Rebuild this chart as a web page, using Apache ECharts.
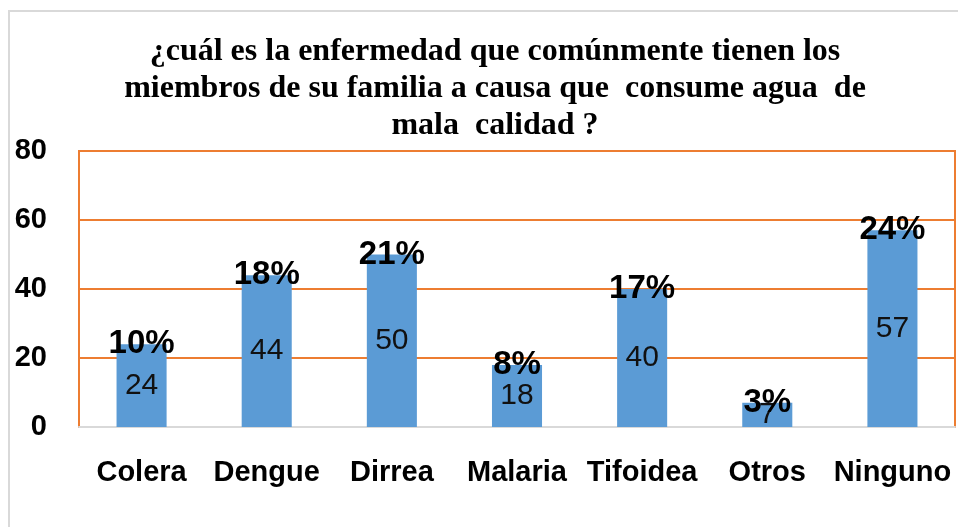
<!DOCTYPE html>
<html>
<head>
<meta charset="utf-8">
<script src="https://cdn.jsdelivr.net/npm/echarts@6/dist/echarts.min.js"></script>
<style>
    html, body { margin: 0; padding: 0; background: #fff; }
    #chart { width: 958px; height: 527px; }
</style>
</head>
<body>
<div id="chart"></div>
<script>
// datos
var categorias = ['Colera', 'Dengue', 'Dirrea', 'Malaria', 'Tifoidea', 'Otros', 'Ninguno'];
var cantidades = [24, 44, 50, 18, 40, 7, 57];
var porcentajes = [10, 18, 21, 8, 17, 3, 24];
var ticksY = [0, 20, 40, 60, 80];

var titulo = '¿cuál es la enfermedad que comúnmente tienen los\n' +
    'miembros de su familia a causa que  consume agua  de\n' +
    'mala  calidad ?';

(function() {
    var myChart = echarts.init(document.getElementById('chart'));
    var azul = '#5B9BD5',
        naranja = '#ED7D31';

    var option = {
        backgroundColor: '#fff',
        animation: false,
        title: {
            text: titulo,
            left: 490,
            top: 28,
            textAlign: 'center',
            textStyle: {
                fontFamily: 'Liberation Serif',
                fontWeight: 'bold',
                fontSize: 32,
                lineHeight: 37,
                color: '#000'
            }
        },
        graphic: [{
            type: 'rect', // borde exterior
            shape: { x: 9, y: 11, width: 1000, height: 600 },
            style: { fill: 'none', stroke: '#d9d9d9', lineWidth: 2 },
            silent: true
        }],
        grid: {
            left: 79,
            right: 3,
            top: 151,
            bottom: 100,
            show: true,
            borderColor: naranja,
            borderWidth: 2
        },
        xAxis: {
            type: 'category',
            data: categorias,
            axisLine: { lineStyle: { color: '#d9d9d9', width: 2 } },
            axisTick: { show: false },
            axisLabel: {
                interval: 0,
                hideOverlap: false,
                margin: 31,
                color: '#000',
                fontFamily: 'Liberation Sans',
                fontWeight: 'bold',
                fontSize: 29
            }
        },
        yAxis: {
            type: 'value',
            min: ticksY[0],
            max: ticksY[ticksY.length - 1],
            interval: 20,
            axisLine: { show: false },
            axisTick: { show: false },
            splitLine: { lineStyle: { color: naranja, width: 2 } },
            axisLabel: {
                margin: 32,
                color: '#000',
                fontFamily: 'Liberation Sans',
                fontWeight: 'bold',
                fontSize: 29
            }
        },
        series: [{
            name: 'cantidad',
            type: 'bar',
            data: cantidades,
            barWidth: '40%',
            itemStyle: { color: azul },
            label: {
                show: true,
                position: 'inside',
                color: '#111',
                fontFamily: 'Liberation Sans',
                fontSize: 30
            }
        }, {
            name: 'porcentaje', // etiquetas en la cima de cada barra
            type: 'bar',
            data: cantidades,
            barWidth: '40%',
            barGap: '-100%',
            z: 5,
            itemStyle: { color: 'rgba(0,0,0,0)' },
            label: {
                show: true,
                position: ['50%', 0],
                align: 'center',
                verticalAlign: 'middle',
                color: '#000',
                fontFamily: 'Liberation Sans',
                fontWeight: 'bold',
                fontSize: 33,
                formatter: function(p) {
                    return porcentajes[p.dataIndex] + '%';
                }
            }
        }]
    };
    myChart.setOption(option);
})();
</script>
</body>
</html>
